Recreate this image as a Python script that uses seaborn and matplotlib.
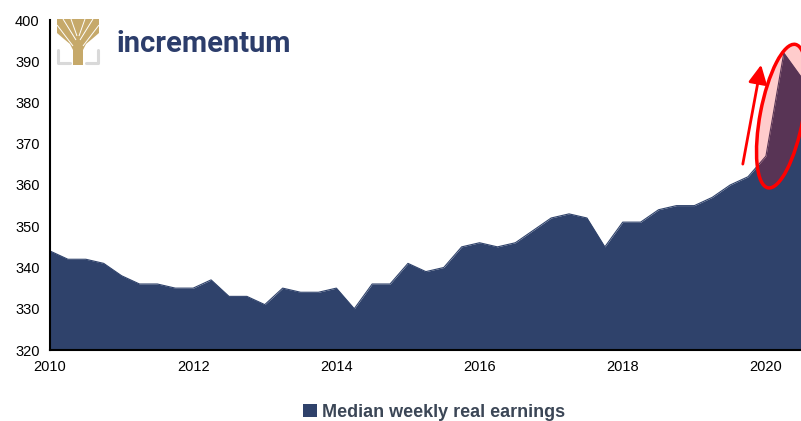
import numpy as np
import matplotlib
matplotlib.use("Agg")
import matplotlib.pyplot as plt
import seaborn as sns
from matplotlib.patches import Ellipse, Polygon, Patch
from matplotlib.transforms import IdentityTransform

# ─── Data (quarterly, 1982-84 dollars) ───────────────────────────────────────
years = [2010 + 0.25 * i for i in range(43)]
earnings = [
    344, 342, 342, 341,   # 2010
    338, 336, 336, 335,   # 2011
    335, 337, 333, 333,   # 2012
    331, 335, 334, 334,   # 2013
    335, 330, 336, 336,   # 2014
    341, 339, 340, 345,   # 2015
    346, 345, 346, 349,   # 2016
    352, 353, 352, 345,   # 2017
    351, 351, 354, 355,   # 2018
    355, 357, 360, 362,   # 2019
    367, 392, 386,        # 2020
]
y_ticks = list(range(320, 401, 10))
x_ticks = list(range(2010, 2021, 2))
series_name = "Median weekly real earnings"

NAVY = "#2f426b"
GOLD = "#c6a96a"

sns.set_style("white")
plt.rcParams["font.family"] = ["Liberation Sans", "DejaVu Sans"]

fig = plt.figure(figsize=(8.01, 4.21), dpi=100)
ax = fig.add_axes([50 / 801, 71 / 421, 751 / 801, 330 / 421])

ax.fill_between(years, earnings, 320, color=NAVY, linewidth=0)
sns.lineplot(x=years, y=earnings, ax=ax, color=NAVY, linewidth=0.8)

ax.set_xlim(2010, 2020.49)
ax.set_ylim(320, 400)
ax.set_xticks(x_ticks)
ax.set_yticks(y_ticks)
ax.tick_params(axis="both", direction="inout", length=7, width=1.3,
               labelsize=10.5, colors="black")
ax.tick_params(axis="y", pad=4)
ax.tick_params(axis="x", pad=4)
for s in ["top", "right"]:
    ax.spines[s].set_visible(False)
for s in ["left", "bottom"]:
    ax.spines[s].set_linewidth(1.5)
    ax.spines[s].set_color("black")
ax.set_xlabel("")
ax.set_ylabel("")

# ─── Highlight the spike ──────────────────────────────────────────────────────
cx, cy = ax.transData.transform((2020.22, 376.7))
ell = Ellipse((cx, cy), width=43, height=146, angle=-10.8,
              transform=IdentityTransform(), facecolor=(1, 0, 0, 0.2),
              edgecolor="red", linewidth=2.5, zorder=5, clip_on=False)
fig.add_artist(ell)
ax.annotate("", xy=(2019.94, 389.8), xytext=(2019.67, 364.4),
            arrowprops=dict(arrowstyle="-|>,head_length=0.8,head_width=0.4",
                            color="red", lw=2, mutation_scale=14),
            zorder=6, annotation_clip=False)

# ─── Legend ───────────────────────────────────────────────────────────────────
fig.legend(handles=[Patch(facecolor=NAVY, edgecolor="none", label=series_name)],
           loc="center", bbox_to_anchor=(0.542, 0.02), frameon=False,
           handlelength=0.75, handleheight=0.75, handletextpad=0.3,
           prop={"weight": "bold", "size": 13}, labelcolor="#3b4656")

# ─── Logo (pixel overlay) ─────────────────────────────────────────────────────
ov = fig.add_axes([0, 0, 1, 1], zorder=10)
ov.set_xlim(0, 801)
ov.set_ylim(421, 0)
ov.axis("off")
ov.patch.set_alpha(0)

ov.add_patch(Polygon([(57, 19), (99, 19), (99, 33), (92, 39), (86, 44), (83, 50),
                      (83, 65), (73, 65), (73, 50), (70, 44), (64, 39), (57, 33)],
                     closed=True, facecolor=GOLD, edgecolor="none"))
for x0, y0, x1, y1 in [(76, 40, 63, 19), (77, 36, 71, 19), (79, 36, 85, 19),
                       (80, 40, 93, 19), (73, 46, 57, 25), (83, 46, 99, 25)]:
    ov.plot([x0, x1], [y0, y1], color="white", lw=0.7, solid_capstyle="butt")
ov.plot([58, 58, 70], [50, 63, 63], color="#d9d9d9", lw=2.2)
ov.plot([86, 98, 98], [63, 63, 50], color="#d9d9d9", lw=2.2)
ov.text(117, 52, "incrementum", ha="left", va="baseline", fontsize=21,
        fontweight="bold", family="Roboto", color="#2c3d6b")

fig.savefig("out.png", dpi=100)
